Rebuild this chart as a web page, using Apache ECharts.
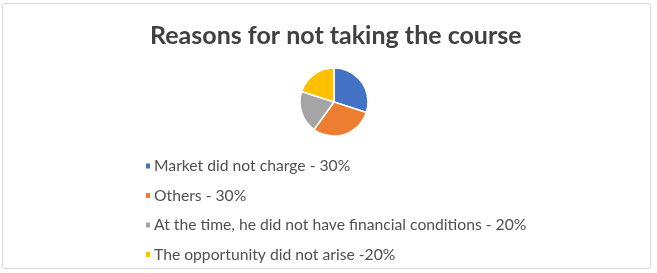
<!doctype html>
<html>
<head>
<meta charset="UTF-8">
<title>Reasons for not taking the course</title>
<script src="https://cdn.jsdelivr.net/npm/echarts@6/dist/echarts.min.js"></script>
<style>
  html, body { margin: 0; padding: 0; background: #fff; }
  #main { position: absolute; left: 2px; top: 3px; width: 649px; height: 266px;
          border: 1px solid #d9d9d9; border-radius: 3px; box-sizing: border-box; }
</style>
</head>
<body>
<div id="main"></div>
<script>
// data
var categories = [
  'Market did not charge - 30%',
  'Others - 30%',
  'At the time, he did not have financial conditions - 20%',
  'The opportunity did not arise -20%'
];
var values = [30, 30, 20, 20];
var colors = ['#4472C4', '#ED7D31', '#A5A5A5', '#FFC000'];

var myChart = echarts.init(document.getElementById('main'));

var pieData = [];
for (var i = 0; i < categories.length; i++) {
  pieData.push({ name: categories[i], value: values[i] });
}

var option = {
  animation: false,
  color: colors,
  title: {
    text: 'Reasons for not taking the course',
    left: 142,
    top: 14,
    textStyle: { fontFamily: 'Lato', fontWeight: 'bold', fontSize: 25, color: '#404040' }
  },
  legend: {
    orient: 'vertical',
    left: 136,
    top: 149,
    itemWidth: 6,
    itemHeight: 7,
    itemGap: 13.5,
    icon: 'rect',
    textStyle: { fontFamily: 'Lato', fontSize: 15.7, color: '#505050', padding: [0, 0, 0, -2] },
    data: categories
  },
  series: [{
    type: 'pie',
    center: [331, 98],
    radius: [0, 34],
    startAngle: 90,
    clockwise: true,
    label: { show: false },
    labelLine: { show: false },
    itemStyle: { borderColor: '#fff', borderWidth: 1.5 },
    data: pieData
  }]
};

myChart.setOption(option);
</script>
</body>
</html>
